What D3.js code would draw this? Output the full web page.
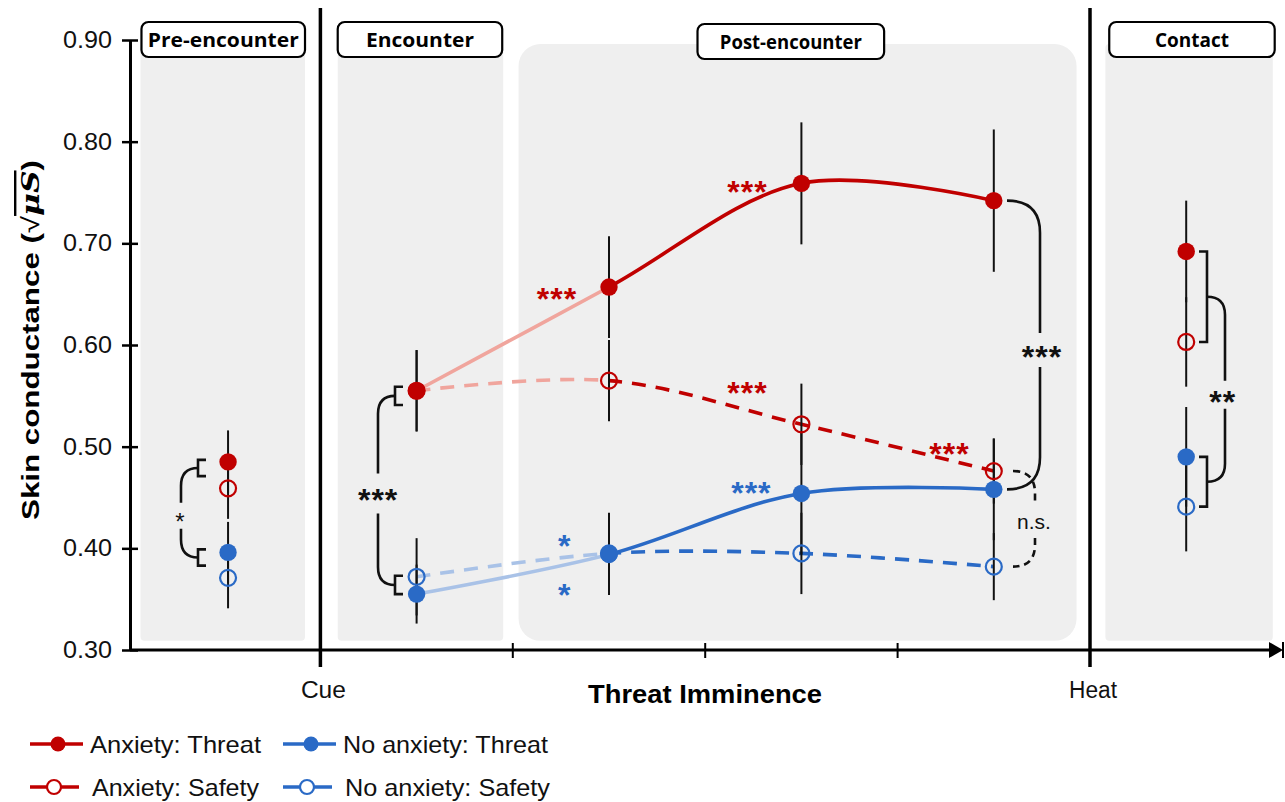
<!DOCTYPE html>
<html>
<head>
<meta charset="utf-8">
<script src="https://cdn.jsdelivr.net/npm/d3@7"></script>
<style>
  body { margin: 0; background: #fff; }
  text { font-family: "Liberation Sans", Arial, sans-serif; }
</style>
</head>
<body>
<svg id="chart"></svg>
<script>
// positions on the imminence axis (Cue = 0, Heat = 4)
const phases = ["Pre-encounter", "Encounter", "Post 1", "Post 2", "Post 3", "Contact"];
const phasePos = [-0.48, 0.5, 1.5, 2.5, 3.5, 4.5];

const anxThreat   = [0.485, 0.555, 0.657, 0.759, 0.742, 0.692];
const anxSafety   = [0.459, 0.555, 0.565, 0.522, 0.476, 0.603];
const noAnxThreat = [0.396, 0.355, 0.394, 0.454, 0.458, 0.490];
const noAnxSafety = [0.371, 0.372, 0.395, 0.395, 0.382, 0.441];

const anxThreatSE   = [0.031, 0.040, 0.050, 0.060, 0.070, 0.050];
const anxSafetySE   = [0.030, 0.040, 0.040, 0.040, 0.032, 0.044];
const noAnxThreatSE = [0.030, 0.029, 0.040, 0.060, 0.050, 0.049];
const noAnxSafetySE = [0.030, 0.038, 0.040, 0.040, 0.033, 0.044];

const yTicks = [0.30, 0.40, 0.50, 0.60, 0.70, 0.80, 0.90];
const xMinorTicks = [1, 2, 3];
const xEventLabels = [[0, "Cue"], [4, "Heat"]];

const panelNames = ["Pre-encounter", "Encounter", "Post-encounter", "Contact"];
const panelSpans = [[-0.935, -0.08], [0.09, 0.95], [1.03, 3.93], [4.08, 4.95]];
const labelSpans = [[-0.93, -0.08], [0.09, 0.945], [1.96, 2.93], [4.1, 4.96]];
const labelWidths = [151, 108, 142, 74];

// significance marks: [text, position, value, colour, bold]
const sigMarks = [
  ["***", 1.23, 0.652, "red", true],
  ["***", 2.22, 0.757, "red", true],
  ["***", 2.22, 0.560, "red", true],
  ["***", 3.27, 0.500, "red", true],
  ["***", 2.24, 0.461, "blue", true],
  ["*",   1.27, 0.409, "blue", true],
  ["*",   1.27, 0.361, "blue", true],
  ["***", 0.30, 0.454, "black", true],
  ["***", 3.75, 0.595, "black", true],
  ["**",  4.69, 0.551, "black", true],
  ["*",  -0.73, 0.432, "black", false]
];

const red = "#c00000", blue = "#2a6ac6";
const redLight = "#f0a59d", blueLight = "#a9c2e7";
const colours = { red: red, blue: blue, black: "#111" };

const width = 1285, height = 802;
const svg = d3.select("#chart").attr("width", width).attr("height", height);

const x = d3.scaleLinear().domain([-1, 4]).range([128, 1090]);
const y = d3.scaleLinear().domain([0.3, 0.9]).range([650, 40]);

// grey phase panels
svg.selectAll(".panel")
  .data(panelSpans)
  .enter().append("rect")
  .attr("class", "panel")
  .attr("x", d => x(d[0]))
  .attr("width", d => x(d[1]) - x(d[0]))
  .attr("y", 44)
  .attr("height", y(0.309) - 44)
  .attr("rx", (d, i) => i == 2 ? 22 : 4)
  .attr("fill", "#efefef");

// phase label boxes
const labels = svg.selectAll(".plabel")
  .data(panelNames)
  .enter().append("g")
  .attr("class", "plabel");

labels.append("rect")
  .attr("x", (d, i) => x(labelSpans[i][0]))
  .attr("y", (d, i) => i == 2 ? 24 : 22)
  .attr("width", (d, i) => x(labelSpans[i][1]) - x(labelSpans[i][0]))
  .attr("height", 35)
  .attr("rx", 7)
  .attr("fill", "white")
  .attr("stroke", "black")
  .attr("stroke-width", 2.2);

labels.append("text")
  .attr("x", (d, i) => (x(labelSpans[i][0]) + x(labelSpans[i][1])) / 2)
  .attr("y", (d, i) => i == 2 ? 49 : 47)
  .attr("text-anchor", "middle")
  .attr("textLength", (d, i) => labelWidths[i])
  .attr("lengthAdjust", "spacingAndGlyphs")
  .style("font-family", "'Open Sans', sans-serif")
  .style("font-weight", "bold")
  .style("font-size", "20px")
  .text(d => d);

// Cue / Heat separators
svg.selectAll(".sep")
  .data(xEventLabels)
  .enter().append("line")
  .attr("x1", d => x(d[0])).attr("x2", d => x(d[0]))
  .attr("y1", 8).attr("y2", 667)
  .attr("stroke", "black")
  .attr("stroke-width", 3.5);

// y axis
const yAxis = svg.append("g")
  .attr("transform", "translate(130,0)")
  .call(d3.axisLeft(y).tickValues(yTicks).tickFormat(d3.format(".2f")).tickSizeOuter(0));
yAxis.select(".domain").attr("stroke-width", 3);
yAxis.selectAll(".tick line").attr("x1", -8).attr("x2", 8).attr("stroke-width", 2.5);
yAxis.selectAll(".tick text")
  .attr("x", -18)
  .attr("textLength", 49)
  .attr("lengthAdjust", "spacingAndGlyphs")
  .style("font-size", "23px")
  .style("font-family", "'Liberation Sans', Arial, sans-serif")
  .attr("fill", "#111");

// x axis with arrow
svg.append("line")
  .attr("x1", 130).attr("x2", 1272)
  .attr("y1", 650).attr("y2", 650)
  .attr("stroke", "black").attr("stroke-width", 3);
svg.append("path")
  .attr("d", "M1269,642 L1283,650 L1269,658 Z")
  .attr("fill", "black");
svg.append("line")
  .attr("x1", 1283).attr("x2", 1283).attr("y1", 642).attr("y2", 658)
  .attr("stroke", "black").attr("stroke-width", 2);

svg.selectAll(".minor")
  .data(xMinorTicks)
  .enter().append("line")
  .attr("x1", d => x(d)).attr("x2", d => x(d))
  .attr("y1", 643).attr("y2", 658)
  .attr("stroke", "black").attr("stroke-width", 2);

svg.selectAll(".evlabel")
  .data(xEventLabels)
  .enter().append("text")
  .attr("x", d => x(d[0]) + 3)
  .attr("y", 698)
  .attr("text-anchor", "middle")
  .attr("textLength", d => d[1] == "Cue" ? 45 : 48)
  .attr("lengthAdjust", "spacingAndGlyphs")
  .style("font-size", "23px")
  .attr("fill", "#111")
  .text(d => d[1]);

svg.append("text")
  .attr("x", 705).attr("y", 703)
  .attr("text-anchor", "middle")
  .attr("textLength", 234)
  .attr("lengthAdjust", "spacingAndGlyphs")
  .style("font-size", "25px")
  .style("font-weight", "bold")
  .text("Threat Imminence");

// y axis title
const yTitle = svg.append("text")
  .attr("transform", "translate(39,340) rotate(-90)")
  .attr("text-anchor", "middle")
  .attr("textLength", 360)
  .attr("lengthAdjust", "spacingAndGlyphs")
  .style("font-size", "24px")
  .style("font-weight", "bold");
yTitle.append("tspan").text("Skin conductance (");
yTitle.append("tspan").style("font-weight", "normal").text("\u221A");
yTitle.append("tspan").style("font-style", "italic").style("font-family", "'DejaVu Serif', serif")
  .style("text-decoration", "overline").text("\u03BCS");
yTitle.append("tspan").text(")");

// smooth lines across the encounter & post-encounter phases
const series = [
  { values: anxThreat, colour: red, light: redLight, dash: null },
  { values: anxSafety, colour: red, light: redLight, dash: "14,10" },
  { values: noAnxThreat, colour: blue, light: blueLight, dash: null },
  { values: noAnxSafety, colour: blue, light: blueLight, dash: "14,10" }
];

svg.append("clipPath").attr("id", "clipLight")
  .append("rect").attr("x", 0).attr("y", 0).attr("width", x(1.5)).attr("height", height);
svg.append("clipPath").attr("id", "clipDark")
  .append("rect").attr("x", x(1.5)).attr("y", 0).attr("width", width).attr("height", height);

const line = d3.line()
  .x(d => x(d[0]))
  .y(d => y(d[1]))
  .curve(d3.curveCatmullRom.alpha(0.5));

series.forEach(function (s) {
  const pts = [1, 2, 3, 4].map(i => [phasePos[i], s.values[i]]);
  ["clipLight", "clipDark"].forEach(function (c) {
    svg.append("path")
      .datum(pts)
      .attr("d", line)
      .attr("clip-path", `url(#${c})`)
      .attr("fill", "none")
      .attr("stroke", c == "clipLight" ? s.light : s.colour)
      .attr("stroke-width", 3.6)
      .attr("stroke-dasharray", s.dash);
  });
});

// error bars
const errSets = [
  [anxThreat, anxThreatSE], [anxSafety, anxSafetySE],
  [noAnxThreat, noAnxThreatSE], [noAnxSafety, noAnxSafetySE]
];
errSets.forEach(function (e) {
  svg.selectAll(null)
    .data(phasePos)
    .enter().append("line")
    .attr("x1", d => x(d)).attr("x2", d => x(d))
    .attr("y1", (d, i) => y(e[0][i] + e[1][i]))
    .attr("y2", (d, i) => y(e[0][i] - e[1][i]))
    .attr("stroke", "#111")
    .attr("stroke-width", 2);
});

// markers
const markerSets = [
  [anxThreat, red, true], [anxSafety, red, false],
  [noAnxThreat, blue, true], [noAnxSafety, blue, false]
];
markerSets.forEach(function (m) {
  svg.selectAll(null)
    .data(phasePos)
    .enter().append("circle")
    .attr("cx", d => x(d))
    .attr("cy", (d, i) => y(m[0][i]))
    .attr("r", m[2] ? 8.7 : 8)
    .attr("fill", m[2] ? m[1] : "none")
    .attr("stroke", m[1])
    .attr("stroke-width", m[2] ? 0 : 2.2);
});

// brackets
function smallBracket(px, yTop, yBot, dir) {
  return `M${px + 8 * dir},${yTop} H${px} V${yBot} H${px + 8 * dir}`;
}
function connector(px, x2, yA, yB, yLab, gap, r) {
  return `M${px},${yA} Q${x2},${yA} ${x2},${yA + r} V${yLab - gap} ` +
         `M${x2},${yLab + gap} V${yB - r} Q${x2},${yB} ${px},${yB}`;
}
const br = svg.append("g").attr("fill", "none").attr("stroke", "#111").attr("stroke-width", 2.6);

// pre-encounter
br.append("path").attr("d", smallBracket(198, y(0.487), y(0.471), 1));
br.append("path").attr("d", smallBracket(198, y(0.399), y(0.383), 1));
br.append("path").attr("d", connector(198, 181, y(0.479), y(0.391), y(0.432), 13, 18));
// encounter
br.append("path").attr("d", smallBracket(395, y(0.559), y(0.541), 1));
br.append("path").attr("d", smallBracket(395, y(0.373), y(0.355), 1));
br.append("path").attr("d", connector(395, 378, y(0.550), y(0.364), y(0.454), 20, 18));
// contact
br.append("path").attr("d", smallBracket(1207, y(anxThreat[5]), y(anxSafety[5]), -1));
br.append("path").attr("d", smallBracket(1207, y(noAnxThreat[5]), y(noAnxSafety[5]), -1));
br.append("path").attr("d", connector(1207, 1225, y((anxThreat[5] + anxSafety[5]) / 2),
  y((noAnxThreat[5] + noAnxSafety[5]) / 2), y(0.551), 14, 18));
// post-encounter end: threat vs threat, safety vs safety
br.append("path").attr("d", connector(1007, 1040, y(anxThreat[4]), y(noAnxThreat[4]), y(0.595), 17, 32));
br.append("path").attr("d", connector(1013, 1035, y(anxSafety[4]), y(noAnxSafety[4]), y(0.427), 17, 22))
  .attr("stroke-dasharray", "7,5");

svg.append("text")
  .attr("x", 1034).attr("y", y(0.427) + 8)
  .attr("text-anchor", "middle")
  .style("font-size", "21px")
  .attr("fill", "#111")
  .text("n.s.");

svg.selectAll(".sig")
  .data(sigMarks)
  .enter().append("text")
  .attr("x", d => x(d[1]))
  .attr("y", d => y(d[2]) + (d[4] ? 18 : 14))
  .attr("text-anchor", "middle")
  .style("font-size", d => d[4] ? "32px" : "24px")
  .style("font-weight", d => d[4] ? "bold" : "normal")
  .style("letter-spacing", d => d[4] ? "1px" : "0px")
  .attr("fill", d => colours[d[3]])
  .text(d => d[0]);

// legend
const legendItems = [
  ["Anxiety: Threat", red, true, 171], ["No anxiety: Threat", blue, true, 205],
  ["Anxiety: Safety", red, false, 167], ["No anxiety: Safety", blue, false, 205]
];
const legend = svg.selectAll(".leg")
  .data(legendItems)
  .enter().append("g")
  .attr("transform", (d, i) => `translate(${i % 2 ? 283 : 30},${i < 2 ? 744 : 787})`);

legend.append("line")
  .attr("x1", 0).attr("x2", d => d[2] ? 53 : 49)
  .attr("stroke", d => d[1]).attr("stroke-width", 3.6);
legend.append("circle")
  .attr("cx", d => d[2] ? 28 : 24)
  .attr("r", d => d[2] ? 7.5 : 7)
  .attr("fill", d => d[2] ? d[1] : "white")
  .attr("stroke", d => d[1])
  .attr("stroke-width", d => d[2] ? 0 : 2.2);
legend.append("text")
  .attr("x", d => d[2] ? 60 : 62)
  .attr("y", 9)
  .attr("textLength", d => d[3])
  .attr("lengthAdjust", "spacingAndGlyphs")
  .style("font-size", "24px")
  .attr("fill", "#111")
  .text(d => d[0]);
</script>
</body>
</html>
